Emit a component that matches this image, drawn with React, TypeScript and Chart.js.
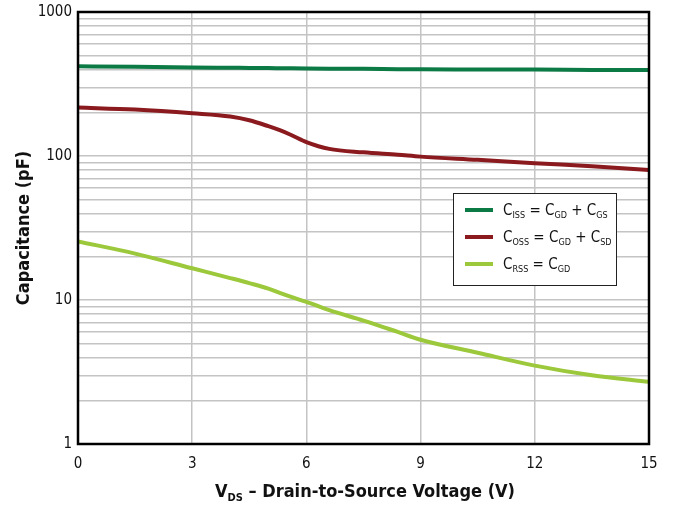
import React, { useEffect, useRef } from "react";
import { Chart, registerables } from "chart.js";

Chart.register(...registerables);

const vds = [0, 1.5, 3, 4, 4.5, 5, 5.3, 5.6, 6, 6.6, 7.5, 8.4, 9, 10.5, 12, 13.5, 15];
const ciss = [420, 416, 412, 410, 409, 408, 407, 406, 405, 404, 403, 401, 400, 399, 398, 396, 395];
const coss = [217, 210, 198, 188, 177, 161, 151, 140, 125, 112, 106, 102, 99, 94, 89, 85, 80];
const crss = [25.5, 21, 16.6, 14.2, 13.1, 12, 11.2, 10.5, 9.7, 8.5, 7.2, 6.0, 5.3, 4.3, 3.5, 3.0, 2.7];
const xTicks = [0, 3, 6, 9, 12, 15];
const yMajor = [1, 10, 100, 1000];
const seriesNames = [
  [["C", ""], ["ISS", "sub"], [" = C", ""], ["GD", "sub"], [" + C", ""], ["GS", "sub"]],
  [["C", ""], ["OSS", "sub"], [" = C", ""], ["GD", "sub"], [" + C", ""], ["SD", "sub"]],
  [["C", ""], ["RSS", "sub"], [" = C", ""], ["GD", "sub"]],
];
const colors = ["#0b7a44", "#8a1a1e", "#9cc83b"];
const FONT = "'Liberation Sans Narrow', 'DejaVu Sans Condensed', 'Liberation Sans', sans-serif";

function drawRich(ctx: CanvasRenderingContext2D, parts: string[][], x: number, y: number, size: number, bold: boolean, align: "left" | "center") {
  const w = bold ? "bold " : "";
  let total = 0;
  for (const [t, k] of parts) {
    ctx.font = `${w}${k === "sub" ? Math.round(size * 0.62) : size}px ${FONT}`;
    total += ctx.measureText(t).width;
  }
  let cx = align === "center" ? x - total / 2 : x;
  ctx.textBaseline = "alphabetic";
  ctx.textAlign = "left";
  for (const [t, k] of parts) {
    ctx.font = `${w}${k === "sub" ? Math.round(size * 0.62) : size}px ${FONT}`;
    ctx.fillText(t, cx, k === "sub" ? y + size * 0.22 : y);
    cx += ctx.measureText(t).width;
  }
}

const overlay = {
  id: "overlay",
  afterDraw(chart: any) {
    const ctx = chart.ctx as CanvasRenderingContext2D;
    const a = chart.chartArea;
    ctx.save();
    ctx.strokeStyle = "#000";
    ctx.lineWidth = 2.5;
    ctx.strokeRect(a.left, a.top, a.right - a.left, a.bottom - a.top);
    ctx.fillStyle = "#111";
    drawRich(ctx, [["V", ""], ["DS", "sub"], [" – Drain-to-Source Voltage (V)", ""]], 365, 497, 18, true, "center");
    const lx = 453, ly = 193, lw = 163, lh = 92;
    ctx.fillStyle = "#fff";
    ctx.fillRect(lx, ly, lw, lh);
    ctx.strokeStyle = "#222";
    ctx.lineWidth = 1;
    ctx.strokeRect(lx + 0.5, ly + 0.5, lw, lh);
    seriesNames.forEach((p, i) => {
      const yy = 210 + i * 27;
      ctx.strokeStyle = colors[i];
      ctx.lineWidth = 4;
      ctx.beginPath();
      ctx.moveTo(465, yy);
      ctx.lineTo(493, yy);
      ctx.stroke();
      ctx.fillStyle = "#111";
      drawRich(ctx, p, 503, yy + 5, 15, false, "left");
    });
    ctx.restore();
  },
};

export default function App() {
  const ref = useRef<HTMLCanvasElement>(null);
  useEffect(() => {
    const mk = (ys: number[]) => vds.map((x, i) => ({ x, y: ys[i] }));
    const chart = new Chart(ref.current!, {
      type: "line",
      data: {
        datasets: [
          { data: mk(ciss), borderColor: colors[0], borderWidth: 4, pointRadius: 0, cubicInterpolationMode: "monotone" },
          { data: mk(coss), borderColor: colors[1], borderWidth: 4, pointRadius: 0, cubicInterpolationMode: "monotone" },
          { data: mk(crss), borderColor: colors[2], borderWidth: 4, pointRadius: 0, cubicInterpolationMode: "monotone" },
        ] as any,
      },
      options: {
        animation: false,
        responsive: false,
        layout: { padding: { left: 0, top: 0, right: 24, bottom: 0 } },
        plugins: { legend: { display: false }, tooltip: { enabled: false } },
        scales: {
          x: {
            type: "linear",
            min: 0,
            max: 15,
            afterBuildTicks: (s: any) => { s.ticks = xTicks.map((v) => ({ value: v })); },
            afterFit: (s: any) => { s.height = 62; },
            grid: { color: "#c4c4c4", lineWidth: 1.5, drawTicks: false },
            border: { display: false },
            ticks: { color: "#111", font: { size: 15, family: FONT }, padding: 11, maxRotation: 0 },
          },
          y: {
            type: "logarithmic",
            min: 1,
            max: 1000,
            afterBuildTicks: (s: any) => {
              const t: any[] = [];
              for (let d = 1; d < 1000; d *= 10) for (let m = 1; m < 10; m++) t.push({ value: d * m });
              t.push({ value: 1000 });
              s.ticks = t;
            },
            afterFit: (s: any) => { s.width = 78; },
            grid: { color: "#c4c4c4", lineWidth: 1.5, drawTicks: false },
            border: { display: false },
            ticks: {
              color: "#111",
              font: { size: 15, family: FONT, lineHeight: 0.8 },
              padding: 6,
              autoSkip: false,
              callback: (v: any) => (yMajor.includes(Number(v)) ? String(v) : ""),
            },
            title: { display: true, text: "Capacitance (pF)", color: "#111", font: { size: 18, weight: "bold", family: FONT }, padding: { top: 14, bottom: 4 } },
          },
        },
      },
      plugins: [overlay],
    });
    return () => chart.destroy();
  }, []);
  return (
    <div style={{ position: "fixed", left: 0, top: 0, width: 673, height: 506, background: "#fff" }}>
      <canvas ref={ref} width={673} height={506} />
    </div>
  );
}
